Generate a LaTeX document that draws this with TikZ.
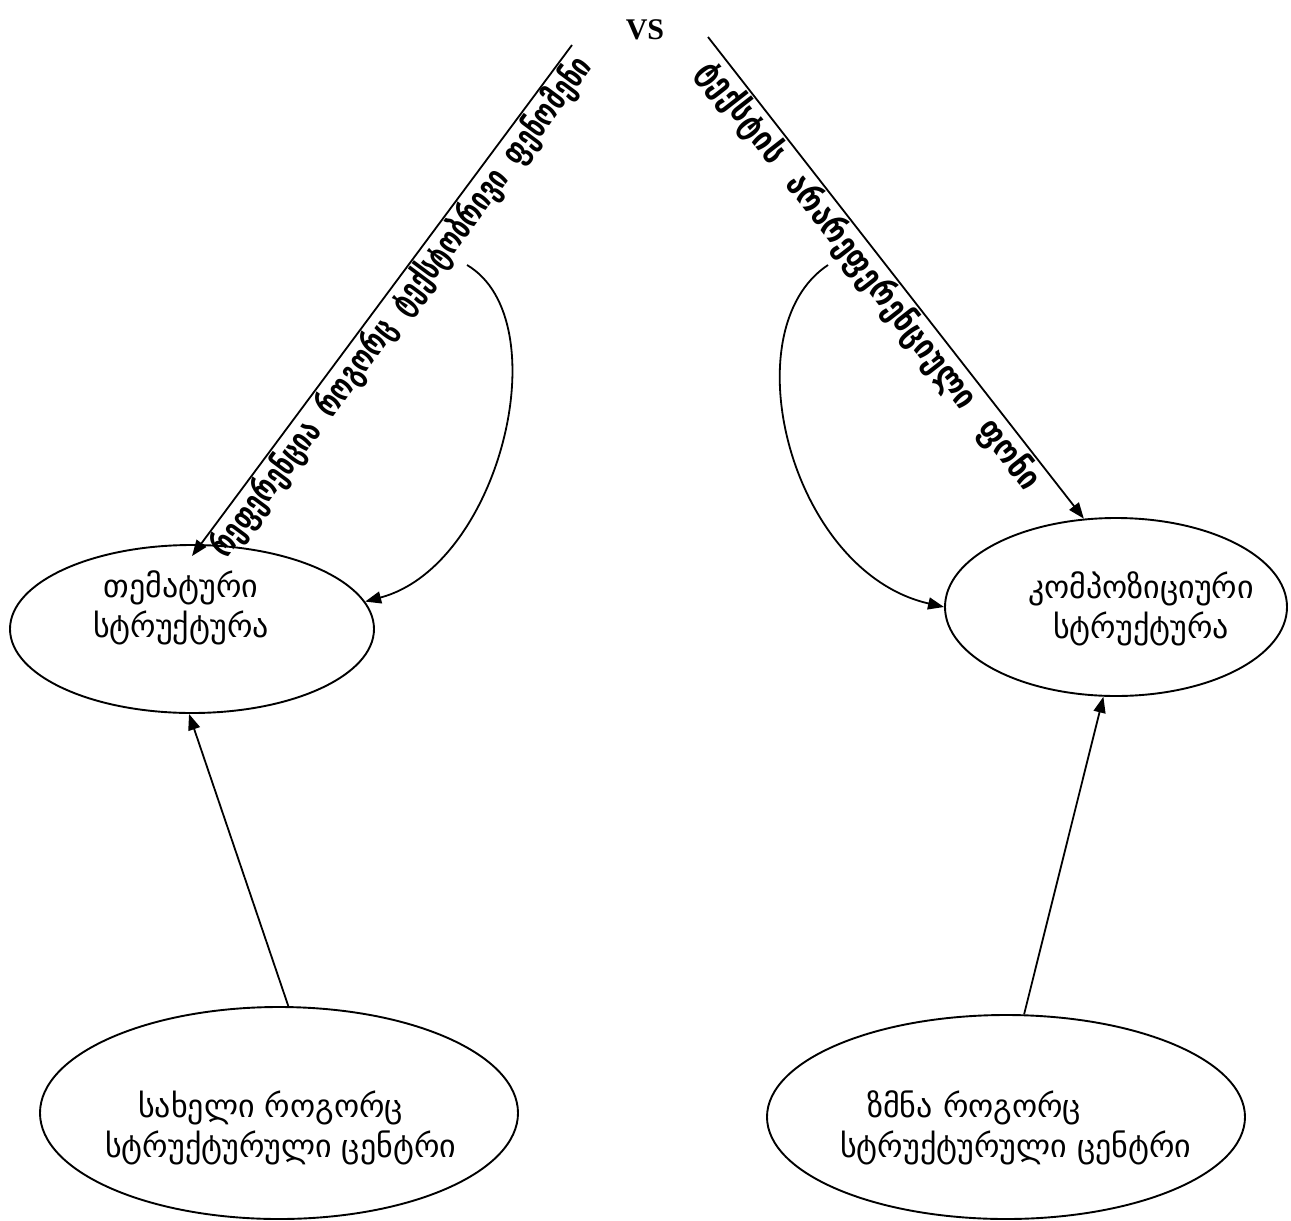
\documentclass[tikz,border=0pt]{standalone}
\usepackage{fontspec}
\setmainfont{Liberation Serif}
\newfontfamily\geo{DejaVu Sans}
\usetikzlibrary{arrows.meta,shapes.geometric}
\begin{document}
\begin{tikzpicture}[x=1pt,y=-1pt,
  ell/.style={draw, ellipse, line width=1.9pt, inner sep=0pt},
  ltext/.style={font=\geo\fontsize{32}{40}\selectfont, align=center, inner sep=0pt},
  slab/.style={font=\geo\bfseries\fontsize{34}{38}\selectfont, inner sep=1pt},
  conn/.style={line width=1.8pt, -{Triangle[length=16pt,width=12pt]}},
  ]
\useasboundingbox (0,0) rectangle (1291,1221);

% ellipses
\node[ell, minimum width=364pt, minimum height=168pt] (E1) at (192,629) {};
\node[ell, minimum width=342pt, minimum height=178pt] (E2) at (1116,607) {};
\node[ell, minimum width=478pt, minimum height=212pt] (E3) at (279,1113) {};
\node[ell, minimum width=478pt, minimum height=204pt] (E4) at (1006,1117) {};

% texts
\node[ltext] (T1) at (181,608) {თემატური\\სტრუქტურა};
\node[ltext] (T2) at (1141,609) {კომპოზიციური\\სტრუქტურა};
\node[ltext, align=left, anchor=west] (T3) at (105,1128) {\hspace*{33pt}სახელი როგორც\\სტრუქტურული ცენტრი};
\node[ltext, align=left, anchor=west] (T4) at (840,1128) {\hspace*{27pt}ზმნა როგორც\\სტრუქტურული ცენტრი};

\node[font=\bfseries\fontsize{30}{34}\selectfont, inner sep=0pt] (VS) at (645,30) {VS};

% free ends
\coordinate (LS) at (572,45);
\coordinate (RS) at (708,37);
\coordinate (LC) at (467,265);
\coordinate (RC) at (828,265);

% diagonal arrows with labels
\draw[conn] (LS) -- node[slab, sloped, pos=0.49, below] {\scalebox{0.73}[1]{რეფერენცია\hspace{8pt} როგორც\hspace{8pt} ტექსტობრივი\hspace{8pt} ფენომენი}} ([yshift=-12pt]E1.north);
\draw[conn] (RS) -- node[slab, sloped, pos=0.47, below] {\scalebox{0.84}[1]{ტექსტის\hspace{16pt} არარეფერენციული\hspace{16pt} ფონი}} (E2.110);

% curved arrows
\draw[conn] (LC) .. controls (560,320) and (500,566) .. (E1.9);
\draw[conn] (RC) .. controls (730,330) and (790,572) .. (E2.west);

% straight arrows up
\draw[conn] (E3.85) -- (E1.268);
\draw[conn] (E4.80) -- (E2.262);
\end{tikzpicture}
\end{document}
